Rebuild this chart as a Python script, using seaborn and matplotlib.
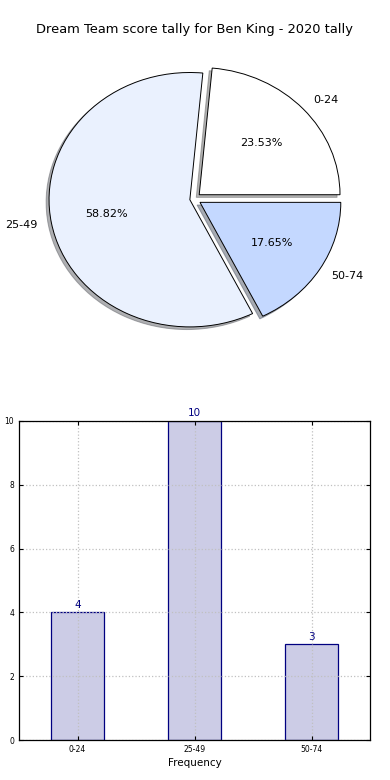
import pandas as pd
import matplotlib
matplotlib.use("Agg")
import matplotlib.pyplot as plt
import seaborn as sns

# Score intervals and how many games fell in each
intervals = ["0-24", "25-49", "50-74"]
counts = [4, 10, 3]
slice_colors = ["#ffffff", "#eaf1fe", "#c4d8ff"]
title = "Dream Team score tally for Ben King - 2020 tally"

df = pd.DataFrame({"interval": intervals, "count": counts})

sns.set_style("white")
plt.rcParams["font.family"] = ["DejaVu Sans"]
plt.rcParams["text.color"] = "black"
plt.rcParams["axes.labelcolor"] = "black"
plt.rcParams["xtick.color"] = "black"
plt.rcParams["ytick.color"] = "black"

fig = plt.figure(figsize=(3.9, 7.8), dpi=100)

# Pie chart (stretched, not equal aspect)
ax1 = fig.add_axes([18 / 390, 1 - 358 / 780, 352 / 390, 318 / 780])
ax1.pie(
    df["count"],
    labels=df["interval"],
    colors=slice_colors,
    autopct="%.2f%%",
    startangle=0,
    explode=(0.05, 0.03, 0.05),
    shadow={"ox": -0.015, "oy": -0.015, "shade": 0.6},
    wedgeprops={"edgecolor": "black", "linewidth": 0.7},
    textprops={"fontsize": 8, "color": "black"},
)
ax1.set_xlim(-1.25, 1.25)
ax1.set_ylim(-1.25, 1.25)
ax1.set_aspect("auto")
fig.text(0.5, 1 - 30 / 780, title, ha="center", va="center", fontsize=9.4)

# Bar chart
ax2 = fig.add_axes([19 / 390, 40 / 780, 351 / 390, 319 / 780])
sns.barplot(
    data=df,
    x="interval",
    y="count",
    color=(204 / 255, 204 / 255, 230 / 255),
    edgecolor="navy",
    linewidth=0.9,
    width=0.45,
    saturation=1,
    ax=ax2,
)
for i, c in enumerate(df["count"]):
    ax2.text(i, c + 0.08, str(c), ha="center", va="bottom", color="navy", fontsize=7.5)

ax2.set_xlim(-0.5, 2.5)
ax2.set_ylim(0, 10)
ax2.set_yticks([0, 2, 4, 6, 8, 10])
ax2.grid(True, linestyle=":", color="#c0c0c0", linewidth=0.9)
ax2.set_axisbelow(False)
for s in ax2.spines.values():
    s.set_color("black")
    s.set_linewidth(0.9)
    s.set_zorder(5)
ax2.tick_params(axis="both", labelsize=5.5, direction="in", length=3,
                top=True, right=True, bottom=True, left=True)
ax2.set_xlabel("Frequency", fontsize=7.5, labelpad=3)
ax2.set_ylabel("Score Interval", fontsize=7.5, labelpad=4)

fig.savefig("out.png", dpi=100)
